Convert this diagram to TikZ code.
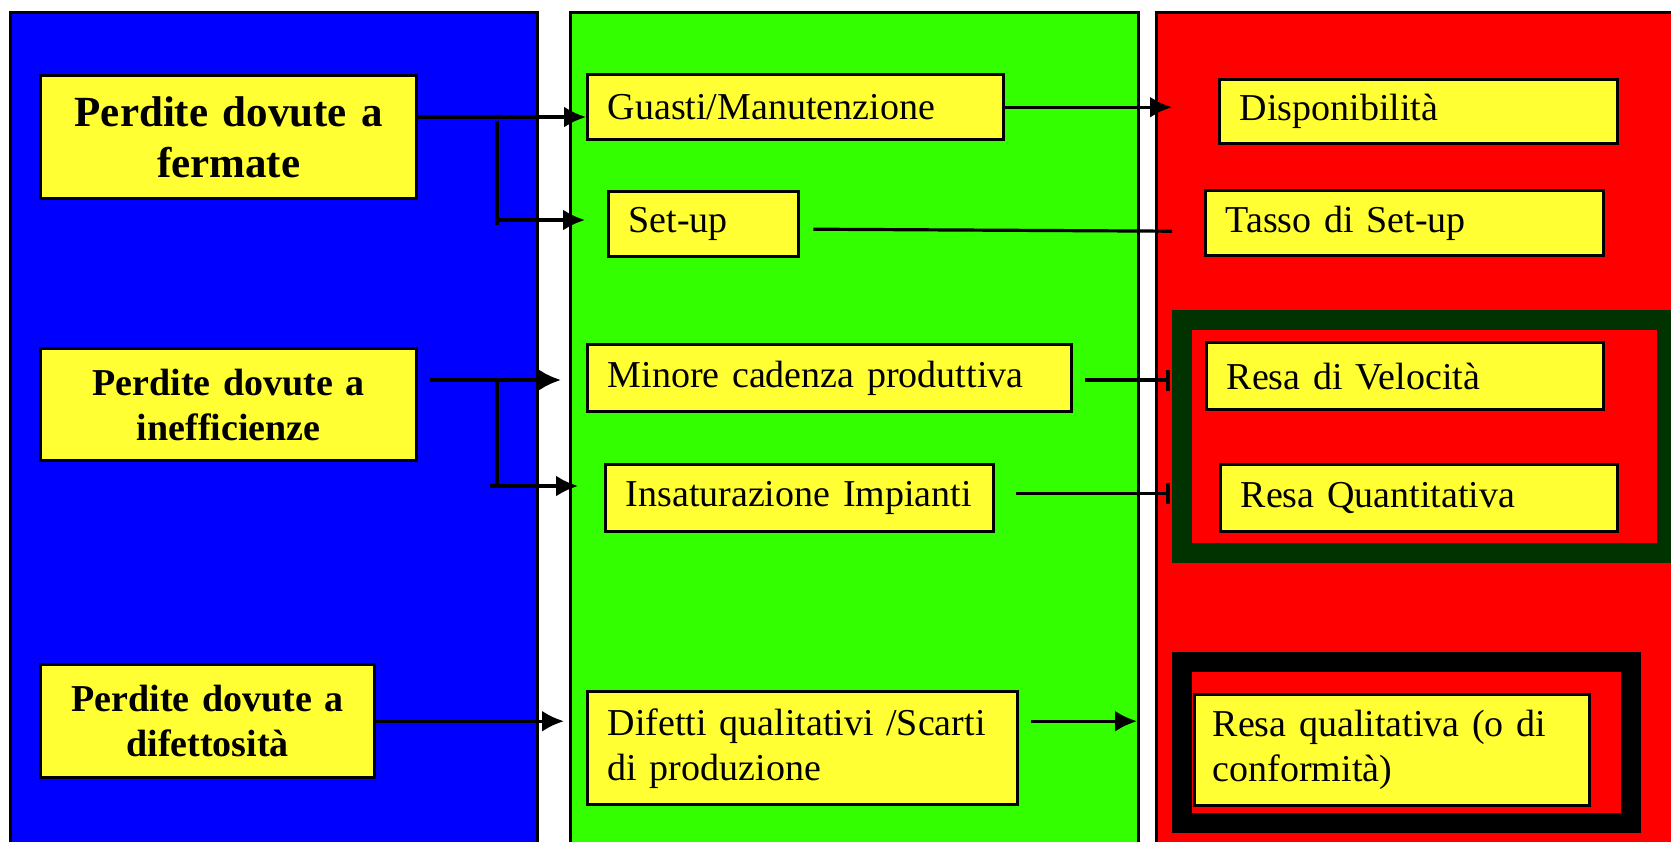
\documentclass[tikz,border=0pt]{standalone}
\usepackage{fontspec}
\setmainfont{Liberation Serif}
\usetikzlibrary{arrows.meta,calc}

\definecolor{panelblue}{RGB}{0,0,255}
\definecolor{panelgreen}{RGB}{51,255,0}
\definecolor{panelred}{RGB}{255,0,0}
\definecolor{boxyellow}{RGB}{255,255,51}
\definecolor{framegreen}{RGB}{0,51,0}

\tikzset{
  ybox/.style={draw, fill=boxyellow, line width=1.7pt, anchor=north west,
    inner xsep=10pt, inner ysep=0pt, align=left,
    font=\fontsize{19}{22.5}\selectfont},
  lossbox/.style={ybox, align=center, font=\bfseries\fontsize{19}{22.5}\selectfont},
  wire/.style={line width=1.6pt},
  conn/.style={wire, -{Latex[length=11pt,width=10.5pt]}},
  endbar/.style={wire, -{Bar[width=10.5pt,line width=2pt]}}
}

\begin{document}
\begin{tikzpicture}[x=0.5pt, y=-0.5pt]
  \useasboundingbox (0,0) rectangle (1671,841);
  \clip (0,0) rectangle (1671,841);
  % panels
  \foreach \lo/\hi/\c in {10.7/537.7/panelblue, 570/1138/panelgreen, 1156.5/1690/panelred}
    \filldraw[fill=\c, line width=1.5pt] (\lo,12.7) rectangle (\hi,860);
  % frames round the yields
  \draw[framegreen, line width=10pt] (1182,320) rectangle (1667,553);
  \draw[black, line width=10pt] (1182,662) rectangle (1631,823);

  % losses
  \node[lossbox, text width=168pt, minimum height=61.5pt,
        font=\bfseries\fontsize{21.5}{25.5}\selectfont] (fermate) at (39,74) {Perdite dovute a\\fermate};
  \node[lossbox, text width=168pt, minimum height=56pt] (ineff) at (39,347) {Perdite dovute a\\inefficienze};
  \node[lossbox, text width=147pt, minimum height=56.5pt] (difett) at (39,663) {Perdite dovute a\\difettosità};

  % causes
  \node[ybox, text width=188pt, minimum height=32.5pt] (guasti) at (586,73) {Guasti/Manutenzione};
  \node[ybox, text width=75pt, minimum height=32.5pt] (setup) at (607,190) {Set-up};
  \node[ybox, text width=222pt, minimum height=33.5pt] (cadenza) at (586,343) {Minore cadenza produttiva};
  \node[ybox, text width=174pt, minimum height=33.5pt] (insat) at (604,463) {Insaturazione Impianti};
  \node[ybox, text width=195pt, minimum height=56.5pt] (difetti) at (586,690) {Difetti qualitativi /Scarti\\di produzione};

  % yields
  \node[ybox, text width=179pt, minimum height=32pt] (disp) at (1218,78) {Disponibilità};
  \node[ybox, text width=179pt, minimum height=32.5pt] (tasso) at (1204,189) {Tasso di Set-up};
  \node[ybox, text width=178.5pt, minimum height=33.5pt] (velo) at (1205,341) {Resa di Velocità};
  \node[ybox, text width=178.5pt, minimum height=33.5pt] (quant) at (1219,463) {Resa Quantitativa};
  \node[ybox, text width=179.5pt, inner xsep=9pt, minimum height=55.5pt] (qual) at (1193,693) {Resa qualitativa (o di\\conformità)};

  % left connectors
  \coordinate (jA) at (497,117);
  \coordinate (jA2) at (497,220);
  \draw[conn] (fermate.east |- jA) -- (guasti.west |- jA);
  \draw[wire] ([yshift=-2pt]jA) -- ([yshift=-2.5pt]jA2);
  \draw[conn] (jA2) -- ($(setup.west |- jA2)+(-22,0)$);
  \coordinate (jB) at (497,380);
  \coordinate (jB2) at (497,486);
  \draw[conn] ($(ineff.east |- jB)+(12,0)$) -- ($(cadenza.west |- jB)+(-25,0)$);
  \draw[wire] (jB) -- (jB2);
  \draw[conn] ($(jB2)+(-7,0)$) -- ($(insat.west |- jB2)+(-26,0)$);
  \draw[conn] (difett.east) -- ($(difetti.west |- difett.east)+(-22,0)$);

  % right connectors
  \coordinate (dgL) at (1172,0);
  \coordinate (gR) at (1137,0);
  \draw[conn] (guasti.east) -- (guasti.east -| dgL);
  \draw[wire] ($(setup.east)+(13,5)$) -- ($(setup.east -| dgL)+(0,7)$);
  \draw[endbar] ($(cadenza.east |- jB)+(12,0)$) -- ($(jB -| dgL)+(-2,0)$);
  \draw[endbar] ($(insat.east)+(21,-5)$) -- ($(insat.east -| dgL)+(-2,-5)$);
  \draw[conn] ($(difetti.east |- difett.east)+(12,0)$) -- (difett.east -| gR);
\end{tikzpicture}
\end{document}
